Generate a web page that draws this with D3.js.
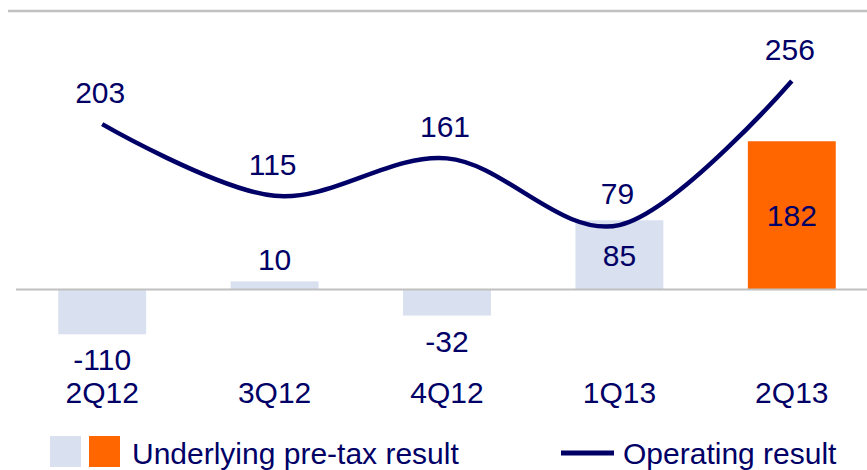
<!DOCTYPE html>
<html>
<head>
<meta charset="utf-8">
<script src="https://cdn.jsdelivr.net/npm/d3@7"></script>
<style>
  body { margin: 0; background: #fff; }
  svg { display: block; }
  text { font-family: Arial, "Liberation Sans", sans-serif; fill: #000066; }
</style>
</head>
<body>
<div id="app"></div>
<script>
const quarters = ["2Q12", "3Q12", "4Q12", "1Q13", "2Q13"];
const pretaxResult = [-110, 10, -32, 85, 182];
const operatingResult = [203, 115, 161, 79, 256];
const legendLabels = ["Underlying pre-tax result", "Operating result"];

const screen = { width: 867, height: 470 };
const colors = {
  text: "#000066",
  line: "#000066",
  bar: "#d9e0ef",
  highlight: "#ff6600",
  rule: "#c0c0c0"
};
const fontSize = 30;

const x = d3
  .scaleBand()
  .domain(quarters)
  .range([16, 878])
  .paddingInner(0.49)
  .paddingOuter(0.245);

// -110 runs off the bottom of the plot in the original, so clamp it
const y = d3
  .scaleLinear()
  .domain([-55, 256])
  .range([334.3, 81])
  .clamp(true);

const svg = d3
  .select("#app")
  .append("svg")
  .attr("width", screen.width)
  .attr("height", screen.height);

// top rule
svg
  .append("line")
  .attr("x1", 8)
  .attr("x2", screen.width)
  .attr("y1", 11)
  .attr("y2", 11)
  .attr("stroke", colors.rule)
  .attr("stroke-width", 2.5);

const data = quarters.map((q, i) => ({
  q,
  pretax: pretaxResult[i],
  operating: operatingResult[i],
  last: i === quarters.length - 1
}));

// bars
svg
  .append("g")
  .selectAll("rect")
  .data(data)
  .join("rect")
  .attr("x", (d) => x(d.q))
  .attr("width", x.bandwidth())
  .attr("y", (d) => Math.min(y(d.pretax), y(0)))
  .attr("height", (d) => Math.abs(y(d.pretax) - y(0)))
  .attr("fill", (d) => (d.last ? colors.highlight : colors.bar));

// zero line
svg
  .append("line")
  .attr("x1", 16)
  .attr("x2", screen.width)
  .attr("y1", y(0))
  .attr("y2", y(0))
  .attr("stroke", colors.rule)
  .attr("stroke-width", 2);

// operating result line
const line = d3
  .line()
  .x((d) => x(d.q) + x.bandwidth() / 2)
  .y((d) => y(d.operating))
  .curve(d3.curveCardinal.tension(0));

svg
  .append("path")
  .datum(data)
  .attr("d", line)
  .attr("fill", "none")
  .attr("stroke", colors.line)
  .attr("stroke-width", 4.5);

// bar labels: centred inside tall bars, outside the end otherwise
svg
  .append("g")
  .selectAll("text")
  .data(data)
  .join("text")
  .attr("x", (d) => x(d.q) + x.bandwidth() / 2)
  .attr("y", (d) => {
    const h = Math.abs(y(d.pretax) - y(0));
    if (d.pretax > 0 && h > 40) return (y(d.pretax) + y(0)) / 2 + 11;
    if (d.pretax > 0) return y(d.pretax) - 11;
    return Math.max(y(d.pretax), y(0)) + 36;
  })
  .attr("text-anchor", "middle")
  .attr("font-size", fontSize)
  .text((d) => d.pretax);

// line labels
svg
  .append("g")
  .selectAll("text")
  .data(data)
  .join("text")
  .attr("x", (d) => x(d.q) + x.bandwidth() / 2 - 2)
  .attr("y", (d) => y(d.operating) - 21)
  .attr("text-anchor", "middle")
  .attr("font-size", fontSize)
  .text((d) => d.operating);

// category axis
const axis = svg
  .append("g")
  .attr("transform", "translate(0,403)")
  .call(d3.axisBottom(x).tickSize(0).tickPadding(0));
axis.select(".domain").remove();
axis
  .selectAll("text")
  .attr("dy", 0)
  .attr("font-size", fontSize)
  .attr("font-family", null)
  .attr("fill", colors.text);

// legend
const legend = svg.append("g");
legend
  .append("rect")
  .attr("x", 50)
  .attr("y", 436)
  .attr("width", 31)
  .attr("height", 31)
  .attr("fill", colors.bar);
legend
  .append("rect")
  .attr("x", 89)
  .attr("y", 436)
  .attr("width", 31)
  .attr("height", 31)
  .attr("fill", colors.highlight);
legend
  .append("text")
  .attr("x", 132)
  .attr("y", 464)
  .attr("font-size", fontSize)
  .text(legendLabels[0]);
legend
  .append("line")
  .attr("x1", 561)
  .attr("x2", 614)
  .attr("y1", 453)
  .attr("y2", 453)
  .attr("stroke", colors.line)
  .attr("stroke-width", 5);
legend
  .append("text")
  .attr("x", 623)
  .attr("y", 464)
  .attr("font-size", fontSize)
  .text(legendLabels[1]);
</script>
</body>
</html>
